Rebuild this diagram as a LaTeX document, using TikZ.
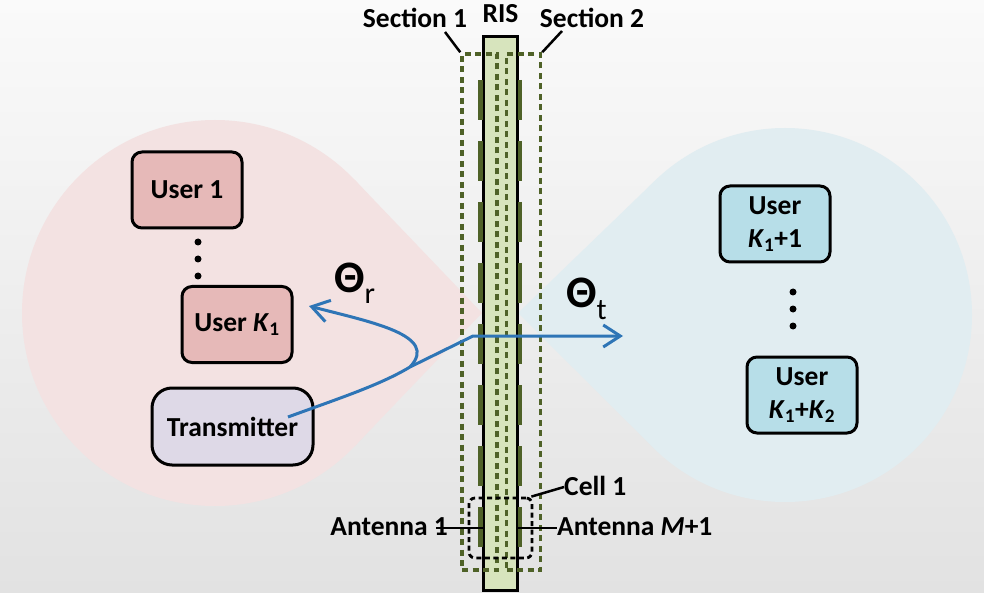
\documentclass[tikz,border=0pt]{standalone}
\usepackage{fontspec}
\setmainfont{Carlito}
\usetikzlibrary{arrows.meta}

\definecolor{bgtop}{RGB}{250,250,250}
\definecolor{bgbot}{RGB}{226,226,226}
\definecolor{zonepink}{RGB}{243,226,226}
\definecolor{zoneblue}{RGB}{225,237,241}
\definecolor{boxpink}{RGB}{230,185,184}
\definecolor{boxblue}{RGB}{183,222,232}
\definecolor{boxlilac}{RGB}{222,217,231}
\definecolor{risfill}{RGB}{215,228,189}
\definecolor{risgreen}{RGB}{79,98,40}
\definecolor{beamblue}{RGB}{46,117,182}

\begin{document}
\begin{tikzpicture}[x=1pt,y=-1pt,
  font=\fontsize{27.5}{33}\selectfont\bfseries,
  userleft/.style={draw=black, line width=3pt, rounded corners=10pt, fill=boxpink,
    minimum width=110pt, minimum height=76pt, inner sep=0pt},
  userright/.style={draw=black, line width=3pt, rounded corners=10pt, fill=boxblue,
    minimum width=110pt, minimum height=76pt, inner sep=0pt, align=center},
  txbox/.style={draw=black, line width=3pt, rounded corners=20pt, fill=boxlilac,
    minimum width=161pt, minimum height=77pt, inner sep=0pt},
  dotmark/.style={circle, fill=black, inner sep=0pt, minimum size=7pt},
  risbar/.style={draw=black, line width=3pt, fill=risfill, inner sep=0pt,
    minimum width=34pt, minimum height=553pt},
  antenna/.style={draw=risgreen, line width=4.5pt, dash pattern=on 40pt off 21pt},
  sectbox/.style={draw=risgreen, line width=3.5pt, dash pattern=on 6pt off 4.5pt,
    inner sep=0pt, minimum height=516pt},
  cellbox/.style={draw=black, line width=2.8pt, dash pattern=on 5pt off 3.5pt,
    rounded corners=6pt, inner sep=0pt, minimum width=63pt, minimum height=60pt},
  lbl/.style={inner sep=0pt},
  leader/.style={draw=black, line width=2.5pt},
  beam/.style={draw=beamblue, line width=3pt},
  beamtip/.style={-{Straight Barb[length=17pt,width=22pt]}},
  thetalbl/.style={inner sep=0pt, anchor=base west}
]

% background
\shade[top color=bgtop, bottom color=bgbot] (0,0) rectangle (984,593);
\useasboundingbox (0,0) rectangle (984,593);

% reflection zone (left) and transmission zone (right)
\fill[zonepink] (215,313) circle[radius=193];
\fill[zonepink] (482,313) -- (354.5,179.6) -- (354.5,446.4) -- cycle;
\fill[zoneblue] (785,315) circle[radius=187];
\fill[zoneblue] (518,313) -- (654,181.6) -- (654,448.4) -- cycle;

% users and transmitter
\node[userleft] (u1) at (187,190) {User 1};
\node[userleft] (uk) at (237,324.5) {User \textit{K}\textsubscript{1}};
\node[txbox] (tx) at (232.5,426.5) {Transmitter};
\node[dotmark] (dl1) at (198,242) {};
\node[dotmark] (dl2) at (198,259) {};
\node[dotmark] (dl3) at (198,276) {};

\node[userright] (ua) at (775,224) {User\\\textit{K}\textsubscript{1}+1};
\node[userright] (ub) at (802,395) {User\\\textit{K}\textsubscript{1}+\textit{K}\textsubscript{2}};
\node[dotmark] (dr1) at (793,292) {};
\node[dotmark] (dr2) at (793,309) {};
\node[dotmark] (dr3) at (793,326) {};

% RIS panel with its antenna elements
\node[risbar] (ris) at (500.5,313.5) {};
\draw[antenna] (480.5,80) -- (480.5,548);
\draw[antenna] (520,80) -- (520,548);

% sections and cell
\node[sectbox, minimum width=35pt] (sec1) at (479.5,312) {};
\node[sectbox, minimum width=34pt] (sec2) at (523.5,312) {};
\node[cellbox] (cell) at (500.5,528) {};

% labels
\node[lbl, anchor=base] (ls1) at (415,28) {Section 1};
\node[lbl, anchor=base] (lris) at (500.5,23) {RIS};
\node[lbl, anchor=base] (ls2) at (592,28) {Section 2};
\coordinate (ls1tail) at (445,32);
\coordinate (ls2tail) at (562,31);
\draw[leader] (ls1tail) -- (sec1.north west);
\draw[leader] (ls2tail) -- (sec2.north east);

\node[lbl, anchor=base west] (lcell) at (564,495) {Cell 1};
\draw[leader] ([shift={(-2,0)}]cell.north east) -- ([shift={(0,-8)}]lcell.base west);

\node[lbl, anchor=base east] (la1) at (448,535) {Antenna 1};
\node[lbl, anchor=base west] (lam) at (557,535) {Antenna \textit{M}+1};
\coordinate (ant1) at (483,528);
\coordinate (antm) at (518,528);
\draw[leader] ([shift={(-12,-7)}]la1.base east) -- (ant1);
\draw[leader] (antm) -- ([shift={(0,-7)}]lam.base west);

% incident, transmitted and reflected beams
\coordinate (bend) at (410,367);
\coordinate (hit) at (473,336);
\coordinate (tend) at (623,336);
\coordinate (rend) at (309,306);
\draw[beam, beamtip] ([shift={(55.5,-9.5)}]tx.center)
  .. controls (340,398) and (380,385) .. (bend) -- (hit) -- (tend);
\draw[beam, beamtip] (bend) .. controls (440,335) and (370,322) .. (rend);

\node[thetalbl] (thr) at (334,293)
  {{\fontsize{45}{45}\selectfont\bfseries Θ}\raisebox{-10pt}{\fontsize{30}{30}\selectfont\mdseries r}};
\node[thetalbl] (tht) at (566,308)
  {{\fontsize{45}{45}\selectfont\bfseries Θ}\raisebox{-12pt}{\fontsize{30}{30}\selectfont\mdseries t}};
\end{tikzpicture}
\end{document}
